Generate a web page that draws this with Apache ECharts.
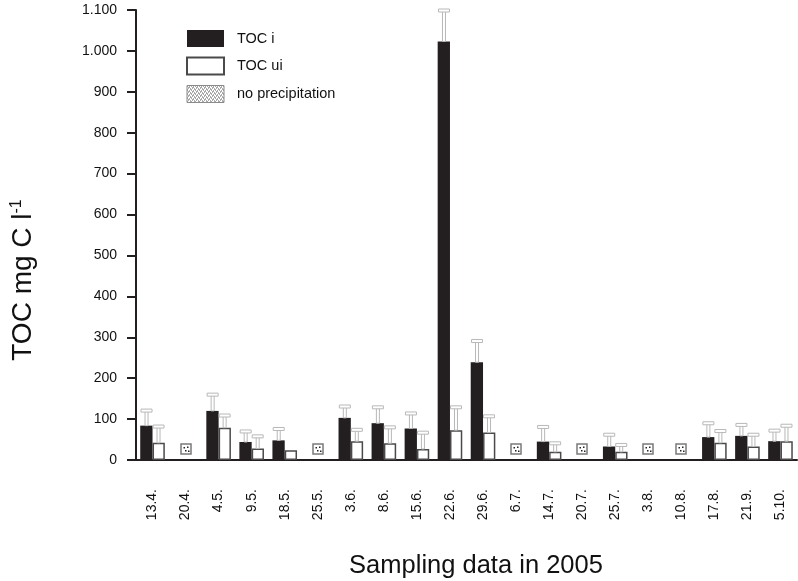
<!DOCTYPE html>
<html>
<head>
<meta charset="utf-8">
<script src="https://cdn.jsdelivr.net/npm/echarts@6/dist/echarts.min.js"></script>
<style>
  html, body { margin: 0; padding: 0; background: #fff; }
  #chart { width: 798px; height: 581px; }
</style>
</head>
<body>
<div id="chart"></div>
<script>
const categories = ['13.4.', '20.4.', '4.5.', '9.5.', '18.5.', '25.5.', '3.6.', '8.6.', '15.6.', '22.6.',
  '29.6.', '6.7.', '14.7.', '20.7.', '25.7.', '3.8.', '10.8.', '17.8.', '21.9.', '5.10.']
// TOC i mean and sd
const tocI = [84, null, 120, 44, 48, null, 103, 90, 77, 1023, 239, null, 45, null, 33, null, null, 56, 59, 46]
const tocISd = [38, null, 41, 27, 29, null, 29, 40, 38, 77, 53, null, 37, null, 30, null, null, 35, 28, 27]
// TOC ui mean and sd
const tocUi = [42, null, 79, 28, 24, null, 46, 41, 27, 73, 67, null, 20, null, 20, null, null, 42, 33, 46]
const tocUiSd = [41, null, 31, 31, null, null, 29, 40, 41, 57, 41, null, 22, null, 18, null, null, 30, 30, 39]
// dates without precipitation, marker height
const noPrecip = [null, 27, null, null, null, 27, null, null, null, null, null, 27, null, 27, null, 27, 27, null, null, null]
const yTicks = [0, 1100, 100]

const font = 'Liberation Sans, Arial, sans-serif'
const dark = '#231f20'

// dotted fill for the legend box of "no precipitation"
const pc = document.createElement('canvas')
pc.width = 4
pc.height = 4
const pctx = pc.getContext('2d')
pctx.fillStyle = '#fff'
pctx.fillRect(0, 0, 4, 4)
pctx.fillStyle = '#555'
;[[0, 0], [2, 1], [1, 2], [3, 3]].forEach(p => pctx.fillRect(p[0], p[1], 1, 1))
const denseDots = { image: pc, repeat: 'repeat' }

function errData(vals, sds) {
  let out = []
  vals.forEach((v, i) => {
    if (v != null && sds[i] != null) out.push([i, v, v + sds[i]])
  })
  return out
}

function errSeries(vals, sds, dx) {
  return {
    type: 'custom',
    z: 5,
    data: errData(vals, sds),
    renderItem: function (params, api) {
      let lo = api.coord([api.value(0), api.value(1)])
      let hi = api.coord([api.value(0), api.value(2)])
      let x = lo[0] + dx
      let st = { fill: '#fff', stroke: '#b8b8b8', lineWidth: 1 }
      return {
        type: 'group',
        children: [
          { type: 'rect', shape: { x: x - 1.5, y: hi[1], width: 3, height: lo[1] - hi[1] }, style: st },
          { type: 'rect', shape: { x: x - 5.5, y: hi[1] - 1, width: 11, height: 3 }, style: st }
        ]
      }
    }
  }
}

let myChart = echarts.init(document.getElementById('chart'))
myChart.setOption({
  animation: false,
  grid: { left: 136, right: 1, top: 10, bottom: 121 },
  legend: {
    orient: 'vertical',
    left: 186,
    top: 30,
    padding: 0,
    itemWidth: 37,
    itemHeight: 17,
    itemGap: 9.5,
    textStyle: { fontFamily: font, fontSize: 14.5, color: '#111', padding: [0, 0, 0, 8] },
    data: [
      { name: 'TOC i', icon: 'rect', itemStyle: { borderWidth: 0 } },
      { name: 'TOC ui', icon: 'rect' },
      { name: 'no precipitation', icon: 'rect', itemStyle: { color: denseDots, borderColor: '#8a8a8a', borderWidth: 1 } }
    ]
  },
  xAxis: {
    type: 'category',
    data: categories,
    axisLine: { lineStyle: { color: dark, width: 2 } },
    axisTick: { length: 9, lineStyle: { color: dark, width: 2 } },
    axisLabel: { rotate: 90, margin: 29, fontFamily: font, fontSize: 14, color: '#111' }
  },
  yAxis: {
    type: 'value',
    min: yTicks[0],
    max: yTicks[1],
    interval: yTicks[2],
    splitLine: { show: false },
    axisLine: { show: true, lineStyle: { color: dark, width: 2 } },
    axisTick: { show: true, length: 9, lineStyle: { color: dark, width: 2 } },
    axisLabel: {
      margin: 19, fontFamily: font, fontSize: 14, color: '#111',
      formatter: v => v >= 1000 ? String(v).replace(/(\d)(\d{3})$/, '$1.$2') : String(v)
    }
  },
  graphic: [
    {
      type: 'text', x: 23, y: 280, rotation: Math.PI / 2,
      style: {
        text: '{a|TOC mg C l}{b|-1}',
        align: 'center', verticalAlign: 'middle',
        rich: {
          a: { fontFamily: font, fontSize: 28, fill: '#111' },
          b: { fontFamily: font, fontSize: 16, fill: '#111', verticalAlign: 'top' }
        }
      }
    },
    {
      type: 'text', x: 476, y: 566,
      style: { text: 'Sampling data in 2005', font: '25.5px ' + font, fill: '#111', align: 'center', verticalAlign: 'middle' }
    }
  ],
  series: [
    {
      name: 'TOC i', type: 'bar', data: tocI, barWidth: 12.3, barGap: '0%',
      itemStyle: { color: dark }
    },
    {
      name: 'TOC ui', type: 'bar', data: tocUi, barWidth: 12.3, barGap: '0%',
      itemStyle: { color: '#fff', borderColor: '#4a4a4a', borderWidth: 1.5 }
    },
    errSeries(tocI, tocISd, -6),
    errSeries(tocUi, tocUiSd, 6),
    {
      name: 'no precipitation', type: 'custom',
      itemStyle: { color: denseDots, borderColor: '#8a8a8a' },
      data: noPrecip.map((v, i) => v == null ? null : [i, v]).filter(d => d),
      renderItem: function (params, api) {
        let c = api.coord([api.value(0), api.value(1)])
        let x = Math.round(c[0]) - 5
        let y = Math.round(c[1]) - 5
        let dot = (dx, dy) => ({ type: 'rect', shape: { x: x + dx, y: y + dy, width: 1.5, height: 1.5 }, style: { fill: '#222' } })
        return {
          type: 'group',
          children: [
            { type: 'rect', shape: { x: x, y: y, width: 10, height: 10 }, style: { fill: '#fff', stroke: '#7a7a7a', lineWidth: 1.5 } },
            dot(2.5, 3), dot(6, 2.5), dot(4, 6), dot(7, 6.5)
          ]
        }
      }
    }
  ]
})
</script>
</body>
</html>
